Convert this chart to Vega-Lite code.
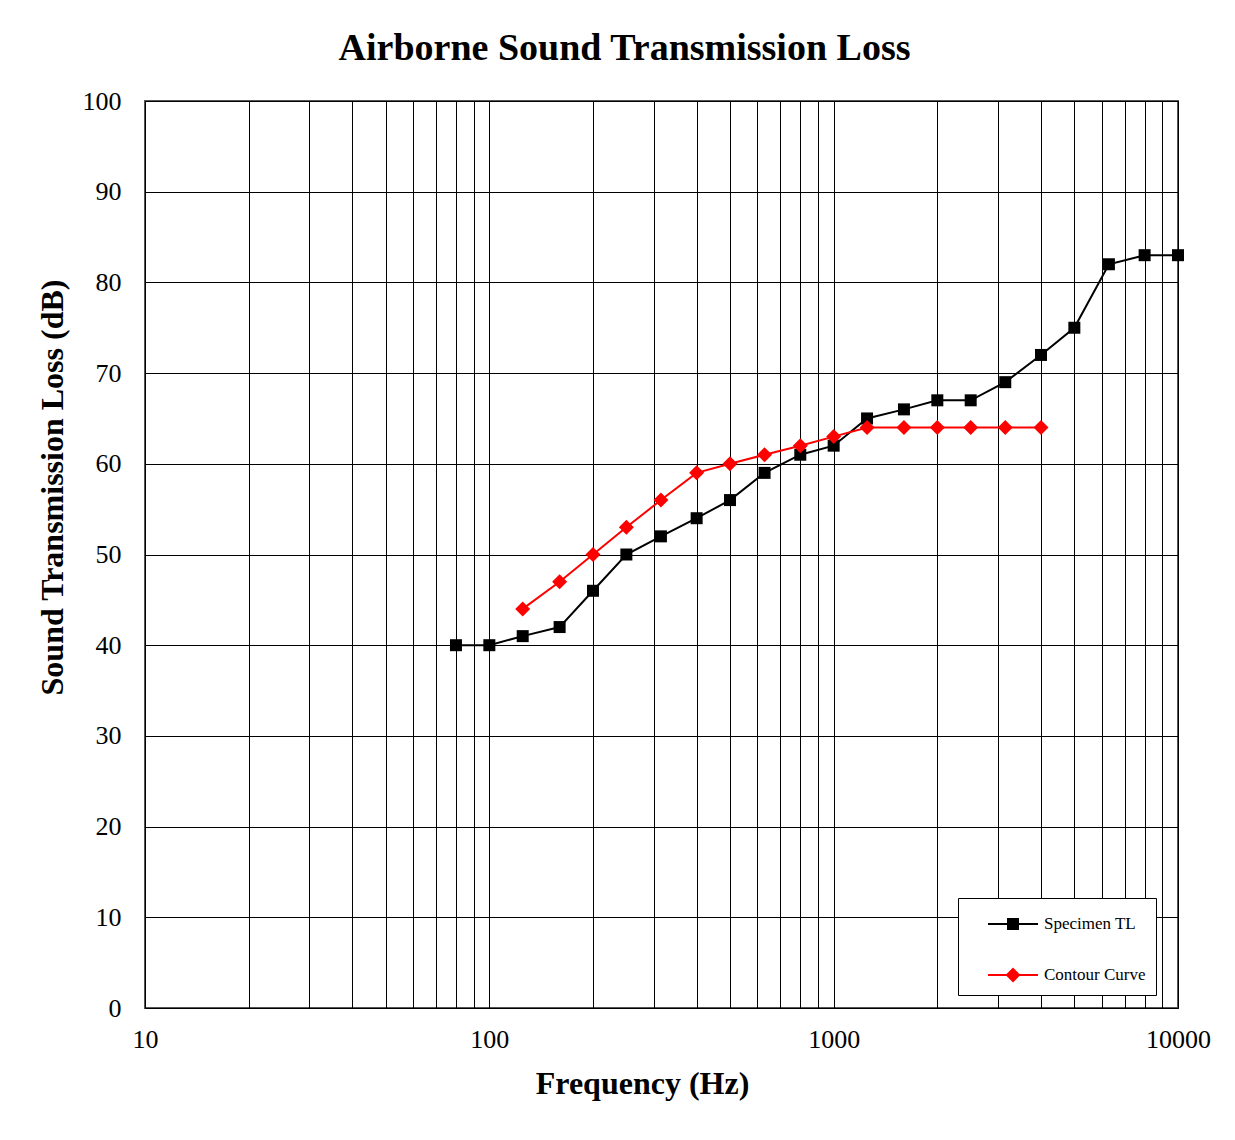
{
  "$schema": "https://vega.github.io/schema/vega-lite/v6.json",
  "width": 1033,
  "height": 907,
  "autosize": {"type": "none"},
  "padding": {"left": 145, "top": 101, "right": 57, "bottom": 132},
  "background": "white",
  "title": {
    "text": "Airborne Sound Transmission Loss",
    "font": "Liberation Serif",
    "fontSize": 38,
    "fontWeight": "bold",
    "color": "black",
    "anchor": "middle",
    "dx": -37,
    "offset": 20
  },
  "config": {
    "view": {"stroke": "#555555", "strokeWidth": 2},
    "axis": {
      "labelFont": "Liberation Serif",
      "titleFont": "Liberation Serif",
      "labelFontSize": 26,
      "titleFontSize": 32,
      "titleFontWeight": "bold",
      "labelColor": "black",
      "titleColor": "black",
      "ticks": false,
      "domain": false,
      "grid": true,
      "gridColor": "black",
      "gridWidth": 1,
      "gridOpacity": 1,
      "labelFlush": false
    }
  },
  "data": {
    "values": [
      {"freq": 80, "tl": 40, "series": "Specimen TL"},
      {"freq": 100, "tl": 40, "series": "Specimen TL"},
      {"freq": 125, "tl": 41, "series": "Specimen TL"},
      {"freq": 160, "tl": 42, "series": "Specimen TL"},
      {"freq": 200, "tl": 46, "series": "Specimen TL"},
      {"freq": 250, "tl": 50, "series": "Specimen TL"},
      {"freq": 315, "tl": 52, "series": "Specimen TL"},
      {"freq": 400, "tl": 54, "series": "Specimen TL"},
      {"freq": 500, "tl": 56, "series": "Specimen TL"},
      {"freq": 630, "tl": 59, "series": "Specimen TL"},
      {"freq": 800, "tl": 61, "series": "Specimen TL"},
      {"freq": 1000, "tl": 62, "series": "Specimen TL"},
      {"freq": 1250, "tl": 65, "series": "Specimen TL"},
      {"freq": 1600, "tl": 66, "series": "Specimen TL"},
      {"freq": 2000, "tl": 67, "series": "Specimen TL"},
      {"freq": 2500, "tl": 67, "series": "Specimen TL"},
      {"freq": 3150, "tl": 69, "series": "Specimen TL"},
      {"freq": 4000, "tl": 72, "series": "Specimen TL"},
      {"freq": 5000, "tl": 75, "series": "Specimen TL"},
      {"freq": 6300, "tl": 82, "series": "Specimen TL"},
      {"freq": 8000, "tl": 83, "series": "Specimen TL"},
      {"freq": 10000, "tl": 83, "series": "Specimen TL"},
      {"freq": 125, "tl": 44, "series": "Contour Curve"},
      {"freq": 160, "tl": 47, "series": "Contour Curve"},
      {"freq": 200, "tl": 50, "series": "Contour Curve"},
      {"freq": 250, "tl": 53, "series": "Contour Curve"},
      {"freq": 315, "tl": 56, "series": "Contour Curve"},
      {"freq": 400, "tl": 59, "series": "Contour Curve"},
      {"freq": 500, "tl": 60, "series": "Contour Curve"},
      {"freq": 630, "tl": 61, "series": "Contour Curve"},
      {"freq": 800, "tl": 62, "series": "Contour Curve"},
      {"freq": 1000, "tl": 63, "series": "Contour Curve"},
      {"freq": 1250, "tl": 64, "series": "Contour Curve"},
      {"freq": 1600, "tl": 64, "series": "Contour Curve"},
      {"freq": 2000, "tl": 64, "series": "Contour Curve"},
      {"freq": 2500, "tl": 64, "series": "Contour Curve"},
      {"freq": 3150, "tl": 64, "series": "Contour Curve"},
      {"freq": 4000, "tl": 64, "series": "Contour Curve"}
    ]
  },
  "encoding": {
    "x": {
      "field": "freq",
      "type": "quantitative",
      "scale": {"type": "log", "domain": [10, 10000], "nice": false},
      "axis": {
        "title": "Frequency (Hz)",
        "values": [10, 20, 30, 40, 50, 60, 70, 80, 90, 100, 200, 300, 400, 500, 600, 700, 800, 900, 1000, 2000, 3000, 4000, 5000, 6000, 7000, 8000, 9000, 10000],
        "labelExpr": "indexof([10, 100, 1000, 10000], datum.value) >= 0 ? '' + datum.value : ''",
        "labelOverlap": false,
        "labelPadding": 18,
        "titlePadding": 16,
        "titleX": 497
      }
    },
    "y": {
      "field": "tl",
      "type": "quantitative",
      "scale": {"domain": [0, 100], "nice": false},
      "axis": {
        "title": "Sound Transmission Loss (dB)",
        "values": [0, 10, 20, 30, 40, 50, 60, 70, 80, 90, 100],
        "labelPadding": 24,
        "titlePadding": 13,
        "titleY": 386
      }
    },
    "color": {
      "field": "series",
      "type": "nominal",
      "scale": {"domain": ["Specimen TL", "Contour Curve"], "range": ["#000000", "#ff0000"]},
      "legend": {
        "title": null,
        "orient": "none",
        "legendX": 813,
        "legendY": 797,
        "direction": "vertical",
        "padding": 10,
        "strokeColor": "#000000",
        "fillColor": "white",
        "labelFont": "Liberation Serif",
        "labelFontSize": 17,
        "labelColor": "black",
        "rowPadding": 26,
        "symbolSize": 900,
        "symbolOffset": 29,
        "labelOffset": 15,
        "symbolStrokeWidth": 2,
        "encode": {
          "symbols": {
            "enter": {
              "shape": {"signal": "datum.value === 'Specimen TL' ? 'M-1.667,0H1.667M-0.333,-0.333H0.333V0.333H-0.333Z' : 'M-1.667,0H1.667M0,-0.4L0.4,0L0,0.4L-0.4,0Z'"}
            },
            "update": {
              "shape": {"signal": "datum.value === 'Specimen TL' ? 'M-1.667,0H1.667M-0.333,-0.333H0.333V0.333H-0.333Z' : 'M-1.667,0H1.667M0,-0.4L0.4,0L0,0.4L-0.4,0Z'"},
              "fill": {"signal": "datum.value === 'Specimen TL' ? '#000000' : '#ff0000'"},
              "stroke": {"signal": "datum.value === 'Specimen TL' ? '#000000' : '#ff0000'"},
              "strokeWidth": {"value": 2},
              "size": {"value": 900},
              "opacity": {"value": 1}
            }
          }
        }
      }
    }
  },
  "layer": [
    {
      "mark": {"type": "line", "strokeWidth": 2}
    },
    {
      "transform": [{"filter": "datum.series === 'Specimen TL'"}],
      "mark": {"type": "point", "shape": "square", "size": 144, "filled": true, "opacity": 1, "strokeWidth": 0}
    },
    {
      "transform": [{"filter": "datum.series === 'Contour Curve'"}],
      "mark": {"type": "point", "shape": "diamond", "size": 225, "filled": true, "opacity": 1, "strokeWidth": 0}
    }
  ]
}
